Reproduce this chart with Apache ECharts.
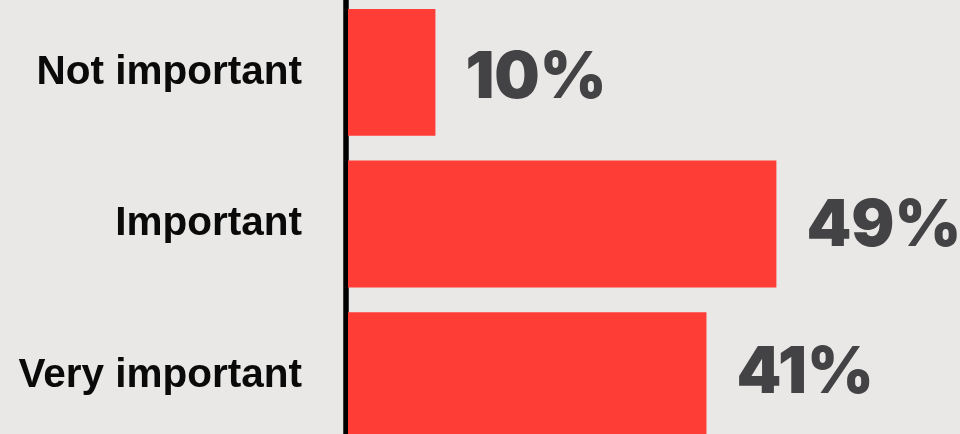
<!DOCTYPE html>
<html>
<head>
<meta charset="utf-8">
<script src="https://cdn.jsdelivr.net/npm/echarts@6/dist/echarts.min.js"></script>
<style>
  html, body { margin: 0; padding: 0; background: #e9e8e6; }
  #chart { width: 960px; height: 434px; }
</style>
</head>
<body>
<div id="chart"></div>
<script>
// Survey answers and their shares (percent)
const categories = ['Not important', 'Important', 'Very important'];
const shares = [10, 49, 41];

const chart = echarts.init(document.getElementById('chart'), null, { renderer: 'canvas' });

// Small vertical nudges for the value labels
const nudges = [6, 3, -2];

chart.setOption({
  backgroundColor: '#e9e8e6',
  animation: false,
  grid: {
    left: 348, width: 612, top: -3.5, height: 455,
    containLabel: false,
    outerBoundsMode: 'none'
  },
  xAxis: {
    type: 'value',
    min: 0,
    max: 70,
    show: false
  },
  yAxis: {
    type: 'category',
    data: categories,
    inverse: true,
    offset: 2.5,
    axisLine: { show: true, onZero: false, lineStyle: { color: '#000000', width: 5.5 } },
    axisTick: { show: false },
    axisLabel: {
      margin: 43.5,
      color: '#0a0a0a',
      fontFamily: 'Liberation Sans, Arial, sans-serif',
      fontWeight: 'bold',
      fontSize: 40.5
    }
  },
  series: [{
    type: 'bar',
    data: shares.map((v, i) => ({ value: v, label: { offset: [0, nudges[i]] } })),
    barCategoryGap: '16.4%',
    itemStyle: { color: '#ff3d37' },
    label: {
      show: true,
      position: 'right',
      distance: 30,
      formatter: p => p.value + '%',
      color: '#434345',
      fontFamily: 'Inter, sans-serif',
      fontWeight: 900,
      fontSize: 64
    }
  }]
});
</script>
</body>
</html>
